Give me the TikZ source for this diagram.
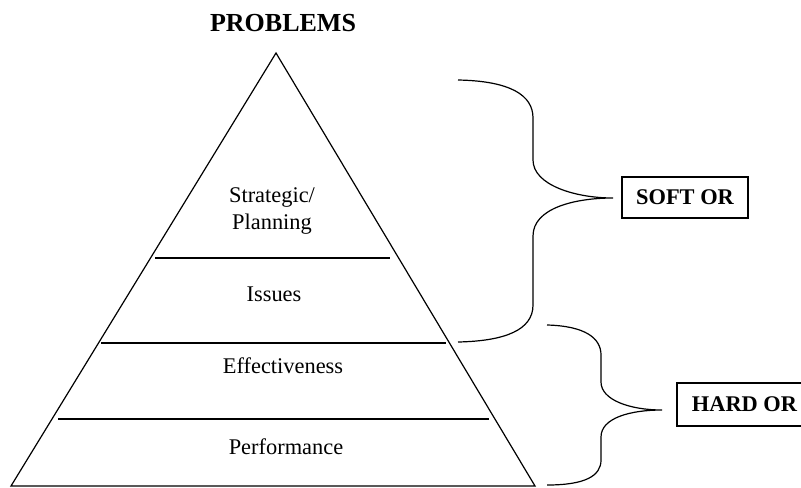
\documentclass[tikz,border=0pt]{standalone}
\usepackage{fontspec}
\setmainfont{Liberation Serif}

\begin{document}
\begin{tikzpicture}[x=0.5pt, y=-0.5pt, line width=0.6pt,
  every node/.style={font=\fontsize{11.2}{13.5}\selectfont},
  orbox/.style={draw, font=\bfseries\fontsize{11.2}{13.5}\selectfont, inner sep=0pt}]
\useasboundingbox (0,0) rectangle (801,487);
% Pyramid
\draw (11,486) -- (276,53) -- (535,486) -- cycle;
\draw (155,258) -- (390,258);
\draw (101,343) -- (446,343);
\draw (58,419) -- (489,419);
% Labels
\node [font=\bfseries\fontsize{13}{15}\selectfont] (problems) at (283,23) {PROBLEMS};
\node [align=center] (strategic) at (272,211) {Strategic/\\Planning};
\node (issues) at (274,294) {Issues};
\node (effective) at (283,366) {Effectiveness};
\node (perform) at (286,447) {Performance};
% Boxes
\node [orbox, minimum width=63pt, minimum height=20.5pt] (soft) at (685,197.5) {SOFT OR};
\node [orbox, minimum width=67.5pt, minimum height=21.5pt] (hard) at (744.5,404.5) {HARD OR};
% Braces
\coordinate (softtip) at (613,198);
\coordinate (hardtip) at (662,410);
\draw (458,80) .. controls (510,81) and (533,95) .. (533,118) -- (533,160)
  .. controls (533,185) and (575,198) .. (softtip)
  .. controls (575,198) and (533,208) .. (533,236) -- (533,305)
  .. controls (533,330) and (505,341) .. (458,342);
\draw (547,325) .. controls (585,326) and (601,338) .. (601,355) -- (601,382)
  .. controls (601,400) and (630,410) .. (hardtip)
  .. controls (630,410) and (601,418) .. (601,437) -- (601,460)
  .. controls (601,476) and (585,485) .. (547,485);
\end{tikzpicture}
\end{document}
